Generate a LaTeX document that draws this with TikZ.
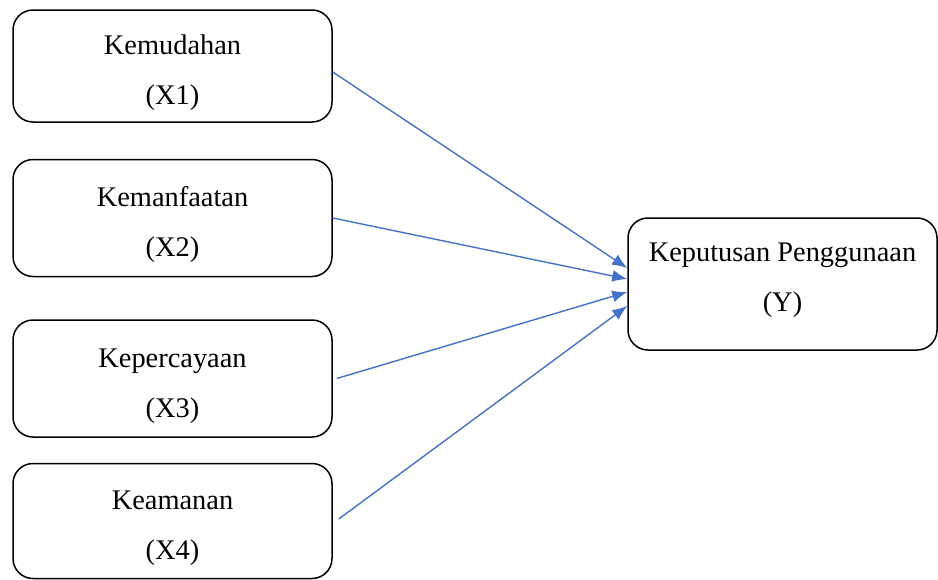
\documentclass[tikz,border=0pt]{standalone}
\usepackage{fontspec}
\setmainfont{Liberation Serif}
\usetikzlibrary{arrows.meta,positioning,calc}
\definecolor{linkblue}{HTML}{4472C4}
\newcommand{\boxtext}[3][17pt]{\rule{0pt}{#1}#2\\#3}
\tikzset{varbox/.style={draw=black,line width=0.75pt,rounded corners=10pt,align=center,
  minimum width=159.5pt,minimum height=58pt,inner sep=0pt,
  font=\fontsize{14.2}{25}\selectfont},
  arrow/.style={-{Latex[length=7.5pt,width=6pt]},line width=0.7pt,draw=linkblue}}
\begin{document}
\begin{tikzpicture}
\useasboundingbox (0,0) rectangle (469pt,-289.5pt);
\node[varbox,minimum height=56pt] (x1) at (86.25pt,-33pt) {\boxtext{Kemudahan}{(X1)}};
\node[varbox,minimum height=58.5pt,below=18pt of x1] (x2) {\boxtext{Kemanfaatan}{(X2)}};
\node[varbox,minimum height=58.5pt,below=21pt of x2] (x3) {\boxtext{Kepercayaan}{(X3)}};
\node[varbox,minimum height=57.5pt,below=12.5pt of x3] (x4) {\boxtext{Keamanan}{(X4)}};
\node[varbox,minimum width=154.5pt,minimum height=66pt] (y) at (391.25pt,-142pt)
  {\boxtext[7pt]{Keputusan Penggunaan}{(Y)\rule[-6.5pt]{0pt}{1pt}}};
\draw[arrow] ([yshift=-3pt]x1.east)--([yshift=8pt]y.west);
\draw[arrow] (x2.east)--([yshift=2.5pt]y.west);
\draw[arrow] ([xshift=2pt]x3.east)--([yshift=-4pt]y.west);
\draw[arrow] ([xshift=3pt,yshift=1pt]x4.east)--([yshift=-11pt]y.west);
\end{tikzpicture}
\end{document}
